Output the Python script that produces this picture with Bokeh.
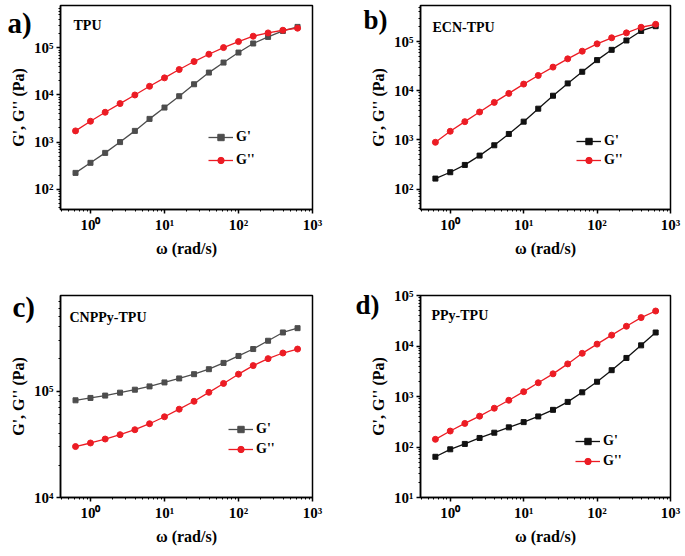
from bokeh.plotting import figure
from bokeh.layouts import row, column
from bokeh.models import FixedTicker, Label, Legend, LegendItem
from bokeh.embed import file_html
from bokeh.resources import INLINE

# ---------------- data ----------------
omega = [0.628, 1.0, 1.58, 2.51, 3.98, 6.28, 10.0, 15.8, 25.1, 39.8, 62.8,
         100.0, 158.0, 251.0, 398.0, 628.0]

tpu_g1 = [222, 363, 590, 1000, 1730, 3110, 5410, 9420, 16900, 29900, 48800,
          79600, 124000, 171000, 229000, 279000]
tpu_g2 = [1730, 2770, 4300, 6570, 10000, 15300, 23100, 34700, 51300, 73400,
          101600, 136000, 177000, 208000, 237000, 262000]

ecn_g1 = [164, 221, 311, 481, 780, 1324, 2355, 4320, 7920, 14100, 24300,
          41900, 67800, 105000, 164000, 205000]
ecn_g2 = [897, 1500, 2355, 3700, 5800, 8840, 13650, 20450, 30200, 44500,
          63600, 89700, 119000, 150000, 195000, 224000]

cnppy_g1 = [81800, 86100, 90600, 96500, 102900, 110500, 120400, 131300,
            143900, 160300, 183600, 213400, 247900, 296500, 354600, 389300]
cnppy_g2 = [30100, 32500, 35400, 38900, 43300, 49300, 57300, 67500, 80100,
            97200, 117800, 143900, 173300, 201400, 227500, 247800]

ppy_g1 = [64, 90, 115, 151, 192, 245, 311, 403, 544, 782, 1210, 1960, 3320,
          5800, 10300, 18500]
ppy_g2 = [142, 207, 293, 408, 586, 842, 1247, 1871, 2810, 4420, 7160, 10900,
          16400, 24600, 36500, 49300]

panel_letters = ["a)", "b)", "c)", "d)"]
sample_names = ["TPU", "ECN-TPU", "CNPPy-TPU", "PPy-TPU"]
series_names = ["G'", "G''"]
x_title = "ω (rad/s)"
y_title = "G', G'' (Pa)"

x_tick_values = [1, 10, 100, 1000]
x_tick_labels = ["10⁰", "10¹", "10²", "10³"]
y_tick_values = [10, 100, 1000, 10000, 100000]
y_tick_labels = ["10¹", "10²", "10³", "10⁴", "10⁵"]

RED = "#ec1c24"
GRAY = "#4d4d4d"
BLACK = "#111111"
FONT = "Liberation Serif"

x_minor = [m * 10.0 ** e for e in range(-1, 3) for m in range(2, 10)]
y_minor = [m * 10.0 ** e for e in range(0, 6) for m in range(2, 10)]


def make_panel(letter, name, g1, g2, c1, y_range, width, height,
               mb_left, mb_right, mb_top, mb_bottom,
               leg_xy, leg_spacing, name_xy, letter_side, letter_xy, letter_size):
    fh = height - mb_top - mb_bottom
    p = figure(width=width, height=height, x_axis_type="log", y_axis_type="log",
               x_range=(0.3935, 1000), y_range=y_range,
               output_backend="svg", toolbar_location=None,
               min_border_left=mb_left, min_border_right=mb_right,
               min_border_top=mb_top, min_border_bottom=mb_bottom)
    p.xgrid.visible = False
    p.ygrid.visible = False
    p.outline_line_color = "black"
    p.outline_line_width = 1.5
    p.outline_line_alpha = 1.0
    p.background_fill_color = "white"
    p.border_fill_color = "white"

    p.xaxis.ticker = FixedTicker(ticks=x_tick_values, minor_ticks=x_minor)
    p.yaxis.ticker = FixedTicker(ticks=y_tick_values, minor_ticks=y_minor)
    p.xaxis.major_label_overrides = dict(zip(x_tick_values, x_tick_labels))
    p.yaxis.major_label_overrides = dict(zip(y_tick_values, y_tick_labels))
    p.xaxis.axis_label = x_title
    p.yaxis.axis_label = y_title

    for ax in (p.xaxis, p.yaxis):
        ax.axis_line_width = 1.5
        ax.axis_line_color = "black"
        ax.major_tick_in = 0
        ax.major_tick_out = 4
        ax.minor_tick_in = 0
        ax.minor_tick_out = 2
        ax.major_tick_line_width = 1.5
        ax.minor_tick_line_width = 1
        ax.major_label_text_font = FONT
        ax.major_label_text_font_style = "bold"
        ax.major_label_text_font_size = "15px"
        ax.major_label_text_color = "black"
        ax.major_label_standoff = 3
        ax.axis_label_text_font = FONT
        ax.axis_label_text_font_style = "bold"
        ax.axis_label_text_font_size = "16px"
        ax.axis_label_text_color = "black"
        ax.axis_label_standoff = 4

    r1 = p.line(omega, g1, line_color=c1, line_width=1.3)
    s1 = p.scatter(omega, g1, marker="square", size=5, fill_color=c1, line_color=c1)
    r2 = p.line(omega, g2, line_color=RED, line_width=1.3)
    s2 = p.scatter(omega, g2, marker="circle", size=6, fill_color=RED, line_color=RED)

    legend = Legend(items=[LegendItem(label=series_names[0], renderers=[r1, s1]),
                           LegendItem(label=series_names[1], renderers=[r2, s2])],
                    location=leg_xy, padding=0, margin=0, spacing=leg_spacing,
                    glyph_width=25, glyph_height=16, label_height=16,
                    label_standoff=3, border_line_alpha=0,
                    background_fill_alpha=0,
                    label_text_font=FONT, label_text_font_style="bold",
                    label_text_font_size="14px", label_text_color="black")
    p.add_layout(legend)

    p.add_layout(Label(x=name_xy[0], y=fh - name_xy[1], x_units="screen",
                       y_units="screen", text=name, text_font=FONT,
                       text_font_style="bold", text_font_size="14px",
                       text_baseline="top", text_color="black"))
    # panel letter lies outside the frame: host it in a side panel with spare room
    p.add_layout(Label(x=letter_xy[0], y=letter_xy[1], x_units="screen",
                       y_units="screen", text=letter, text_font=FONT,
                       text_font_style="bold", text_font_size=letter_size,
                       text_baseline="top", text_color="black"), letter_side)
    return p


pa = make_panel(panel_letters[0], sample_names[0], tpu_g1, tpu_g2, GRAY,
                (10 ** 1.569, 10 ** 5.90), 343, 270, 60, 31, 5, 61,
                (148, 41), 7, (13, 12), "right", (-305, 203), "29px")
pb = make_panel(panel_letters[1], sample_names[1], ecn_g1, ecn_g2, BLACK,
                (10 ** 1.587, 10 ** 5.732), 341, 270, 74, 14, 5, 61,
                (156, 41), 3, (12, 14), "left", (20, 205), "27px")
pc = make_panel(panel_letters[2], sample_names[2], cnppy_g1, cnppy_g2, GRAY,
                (10 ** 4.0, 10 ** 5.897), 343, 285, 60, 31, 24, 58,
                (168, 40), 4, (9, 15), "right", (-300, 207), "29px")
pd = make_panel(panel_letters[3], sample_names[3], ppy_g1, ppy_g2, BLACK,
                (10 ** 1.0, 10 ** 5.0), 341, 285, 74, 14, 25, 56,
                (155, 28), 4, (11, 14), "left", (12, 208), "27px")

layout = column(row(pa, pb), row(pc, pd))

open("out.html", "w").write(file_html(layout, INLINE))
